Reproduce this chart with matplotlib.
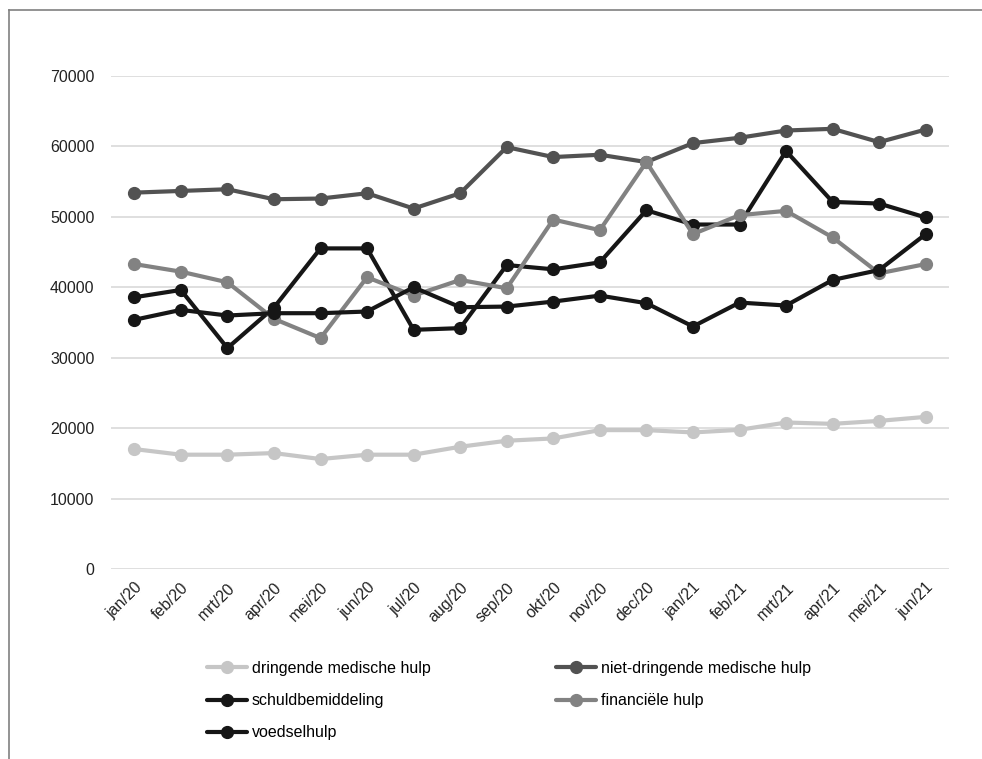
import matplotlib
matplotlib.use("Agg")
import matplotlib.pyplot as plt
from matplotlib.lines import Line2D

months = ["jan/20", "feb/20", "mrt/20", "apr/20", "mei/20", "jun/20", "jul/20", "aug/20", "sep/20",
          "okt/20", "nov/20", "dec/20", "jan/21", "feb/21", "mrt/21", "apr/21", "mei/21", "jun/21"]

dringende = [17030, 16230, 16230, 16460, 15610, 16230, 16230, 17360, 18210,
             18540, 19720, 19720, 19390, 19760, 20800, 20610, 21030, 21600]
niet_dringende = [53440, 53680, 53920, 52500, 52600, 53350, 51180, 53350, 59900,
                  58490, 58820, 57780, 60470, 61230, 62260, 62500, 60610, 62400]
schuldbemiddeling = [38580, 39620, 31370, 37120, 45520, 45520, 33960, 34200, 43160,
                     42550, 43540, 50940, 48910, 48910, 59340, 52120, 51890, 49910]
financiele = [43300, 42220, 40710, 35520, 32780, 41420, 38820, 41040, 39860,
              49620, 48110, 57780, 47550, 50240, 50850, 47080, 41980, 43300]
voedselhulp = [35380, 36790, 35990, 36320, 36320, 36560, 40000, 37170, 37260,
               37970, 38820, 37740, 34430, 37830, 37410, 41040, 42450, 47550]

labels = ["dringende medische hulp", "niet-dringende medische hulp", "schuldbemiddeling",
          "financiële hulp", "voedselhulp"]
series = [dringende, niet_dringende, schuldbemiddeling, financiele, voedselhulp]
colors = ["#c6c6c6", "#525252", "#161616", "#828282", "#161616"]

plt.rcParams['font.family'] = ['Liberation Sans', 'DejaVu Sans']

W, H = 982, 759
fig = plt.figure(figsize=(W / 100, H / 100), dpi=100)
ax = fig.add_axes([111 / W, 1 - 569 / H, (949 - 111) / W, (569 - 76) / H])

x = list(range(len(months)))
handles = []
for s, c, lab in zip(series, colors, labels):
    h, = ax.plot(x, s, color=c, lw=3.0, marker='o', ms=8.5, mec=c, mfc=c, label=lab,
                 solid_capstyle='round', zorder=3)
    handles.append(h)

ax.set_xlim(-0.5, len(months) - 0.5)
ax.set_ylim(0, 70000)
ax.set_yticks(range(0, 70001, 10000))
ax.set_yticklabels([str(v) for v in range(0, 70001, 10000)], fontsize=11.5, color='#222222')
ax.set_xticks(x)
ax.set_xticklabels(months, rotation=45, ha='right', rotation_mode='anchor', fontsize=11.5, color='#222222')
ax.tick_params(axis='both', length=0)
ax.tick_params(axis='y', pad=12)
ax.tick_params(axis='x', pad=8)
ax.grid(axis='y', color='#dcdcdc', lw=1.3, zorder=0)
ax.set_axisbelow(True)
for sp in ax.spines.values():
    sp.set_visible(False)

# outer frame
fig.add_artist(Line2D([9 / W, 9 / W], [0, 1 - 10 / H], transform=fig.transFigure, color='#808080', lw=1.2))
fig.add_artist(Line2D([9 / W, 1], [1 - 10 / H, 1 - 10 / H], transform=fig.transFigure, color='#808080', lw=1.2))

# legend filled row-wise like the reference (matplotlib fills column-wise)
order = [0, 2, 4, 1, 3]
leg = fig.legend([handles[i] for i in order], [labels[i] for i in order], ncol=2, loc='upper left',
                 bbox_to_anchor=(207 / W, 1 - 661 / H),
                 frameon=False, fontsize=11.5, handlelength=2.5, handletextpad=0.3,
                 columnspacing=7.85, labelspacing=1.08, borderaxespad=0, borderpad=0)
for lh in leg.legend_handles:
    lh.set_markersize(8.5)

fig.savefig("out.png", dpi=100, facecolor='white')
